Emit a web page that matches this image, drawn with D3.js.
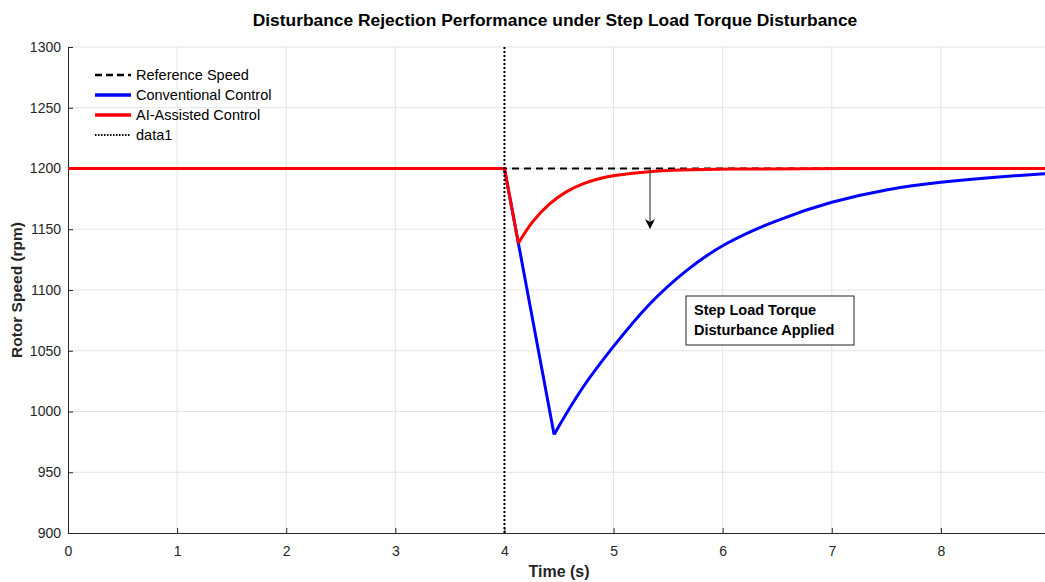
<!DOCTYPE html>
<html lang="en">
<head>
    <meta charset="UTF-8">
    <title>Disturbance Rejection Performance</title>
    <script src="https://d3js.org/d3.v7.min.js"></script>
    <style>
        body { margin: 0; background-color: white; }
        text { font-family: "Liberation Sans", Arial, sans-serif; fill: #262626; }
        .grid line { stroke: #e3e3e3; stroke-width: 1px; }
        .legend text { font-size: 14.5px; fill: #000; }
    </style>
</head>
<body>
    <script>
        // Values
        const xTicks = [0, 1, 2, 3, 4, 5, 6, 7, 8];
        const yTicks = [900, 950, 1000, 1050, 1100, 1150, 1200, 1250, 1300];

        const refTime  = [0, 9];
        const refSpeed = [1200, 1200];

        const convTime  = [0, 4.0, 4.455, 4.7, 5.0, 5.33, 5.67, 6.0, 6.5, 7.0, 7.5, 8.0, 8.5, 9.0];
        const convSpeed = [1200, 1200, 981, 1019, 1054, 1090, 1117, 1138, 1158, 1173, 1183, 1189, 1193, 1196];

        const aiTime  = [0, 4.0, 4.128, 4.25, 4.42, 4.57, 4.72, 4.87, 5.0, 5.3, 5.6, 6.0, 7.0, 9.0];
        const aiSpeed = [1200, 1200, 1138.5, 1156.5, 1172, 1181.5, 1187.7, 1191.8, 1194.3, 1197.4, 1198.9, 1199.6, 1200, 1200];

        const stepTime = 4;
        const arrowTime = 5.334, arrowFrom = 1200, arrowTo = 1151;

        const legendLabels = ["Reference Speed", "Conventional Control", "AI-Assisted Control", "data1"];
        const noteLines = ["Step Load Torque", "Disturbance Applied"];

        const width = 1045, height = 582;
        const margin = {top: 47, left: 68, bottom: 49};

        const svg = d3.select("body").append("svg")
            .attr("width", width)
            .attr("height", height)
            .style("background-color", "white");

        const x = d3.scaleLinear().domain([0, 9]).range([margin.left, 1050]);
        const y = d3.scaleLinear().domain([900, 1300]).range([height - margin.bottom, margin.top]);

        // grid
        const grid = svg.append("g").attr("class", "grid");
        grid.selectAll(".gx").data(xTicks.slice(1)).enter().append("line")
            .attr("x1", d => x(d)).attr("x2", d => x(d))
            .attr("y1", y(900)).attr("y2", y(1300));
        grid.selectAll(".gy").data(yTicks.slice(1)).enter().append("line")
            .attr("x1", x(0)).attr("x2", x(9))
            .attr("y1", d => y(d)).attr("y2", d => y(d));

        // axes (ticks inward, like MATLAB)
        const xAxis = svg.append("g")
            .attr("transform", "translate(0," + y(900) + ")")
            .call(d3.axisBottom(x).tickValues(xTicks).tickFormat(d3.format("d"))
                .tickSizeInner(-5).tickSizeOuter(0).tickPadding(13));
        const yAxis = svg.append("g")
            .attr("transform", "translate(" + x(0) + ",0)")
            .call(d3.axisLeft(y).tickValues(yTicks).tickFormat(d3.format("d"))
                .tickSizeInner(-5).tickSizeOuter(0).tickPadding(7));
        [xAxis, yAxis].forEach(a => {
            a.select(".domain").attr("stroke", "#262626");
            a.selectAll(".tick line").attr("stroke", "#262626");
            a.selectAll(".tick text").attr("fill", "#262626")
                .style("font-family", "Liberation Sans, Arial, sans-serif")
                .style("font-size", "14px");
        });

        const line = d3.line().x(d => x(d[0])).y(d => y(d[1]));
        const smooth = d3.line().x(d => x(d[0])).y(d => y(d[1])).curve(d3.curveBasis);
        const zip = (a, b) => a.map((t, i) => [t, b[i]]);

        const plot = svg.append("g");

        plot.append("path").datum(zip(refTime, refSpeed))
            .attr("d", line).attr("fill", "none")
            .attr("stroke", "#000").attr("stroke-width", 2).attr("stroke-dasharray", "7,5");

        // piecewise: straight drop, smooth recovery
        function drawSeries(times, speeds, color) {
            const pts = zip(times, speeds);
            plot.append("path").datum(pts.slice(0, 3))
                .attr("d", line).attr("fill", "none")
                .attr("stroke", color).attr("stroke-width", 3).attr("stroke-linejoin", "round");
            plot.append("path").datum(pts.slice(2))
                .attr("d", smooth).attr("fill", "none")
                .attr("stroke", color).attr("stroke-width", 3).attr("stroke-linejoin", "round");
        }
        drawSeries(convTime, convSpeed, "#0000ff");
        drawSeries(aiTime, aiSpeed, "#ff0000");

        plot.append("line")
            .attr("x1", x(stepTime)).attr("x2", x(stepTime))
            .attr("y1", y(1300)).attr("y2", y(900))
            .attr("stroke", "#000").attr("stroke-width", 2).attr("stroke-dasharray", "2,2");

        // arrow
        svg.append("defs").append("marker")
            .attr("id", "arr").attr("viewBox", "0 0 10 10")
            .attr("refX", 9).attr("refY", 5)
            .attr("markerWidth", 10).attr("markerHeight", 10)
            .attr("markerUnits", "userSpaceOnUse")
            .attr("orient", "auto")
            .append("path").attr("d", "M0,0 L10,5 L0,10 L3,5 Z").attr("fill", "#000");
        plot.append("line")
            .attr("x1", x(arrowTime)).attr("x2", x(arrowTime))
            .attr("y1", y(arrowFrom)).attr("y2", y(arrowTo))
            .attr("stroke", "#444").attr("stroke-width", 1.2)
            .attr("marker-end", "url(#arr)");

        // annotation box
        const note = svg.append("g").attr("transform", "translate(686,296)");
        note.append("rect").attr("width", 168).attr("height", 49)
            .attr("fill", "white").attr("stroke", "#222").attr("stroke-width", 1);
        note.selectAll("text").data(noteLines).enter().append("text")
            .attr("x", 8).attr("y", (d, i) => 19 + i * 20)
            .style("font-size", "14.5px").style("font-weight", "bold").style("fill", "#000")
            .text(d => d);

        // legend
        const legend = svg.append("g").attr("class", "legend");
        const styles = [
            {stroke: "#000", w: 2.5, dash: "7,4"},
            {stroke: "#0000ff", w: 3.5, dash: null},
            {stroke: "#ff0000", w: 3.5, dash: null},
            {stroke: "#000", w: 1.8, dash: "1.5,1.5"}
        ];
        legendLabels.forEach((lab, i) => {
            const yy = 75 + i * 20;
            legend.append("line")
                .attr("x1", 95).attr("x2", 131).attr("y1", yy).attr("y2", yy)
                .attr("stroke", styles[i].stroke).attr("stroke-width", styles[i].w)
                .attr("stroke-dasharray", styles[i].dash);
            legend.append("text").attr("x", 136).attr("y", yy + 5).text(lab);
        });

        // titles
        svg.append("text").attr("x", 555).attr("y", 26)
            .attr("text-anchor", "middle")
            .style("font-size", "17.4px").style("font-weight", "bold").style("fill", "#000")
            .text("Disturbance Rejection Performance under Step Load Torque Disturbance");
        svg.append("text").attr("x", 559).attr("y", 577)
            .attr("text-anchor", "middle")
            .style("font-size", "16px").style("font-weight", "bold")
            .text("Time (s)");
        svg.append("text")
            .attr("transform", "translate(22,290)rotate(-90)")
            .attr("text-anchor", "middle")
            .style("font-size", "15.5px").style("font-weight", "bold")
            .text("Rotor Speed (rpm)");
    </script>
</body>
</html>
